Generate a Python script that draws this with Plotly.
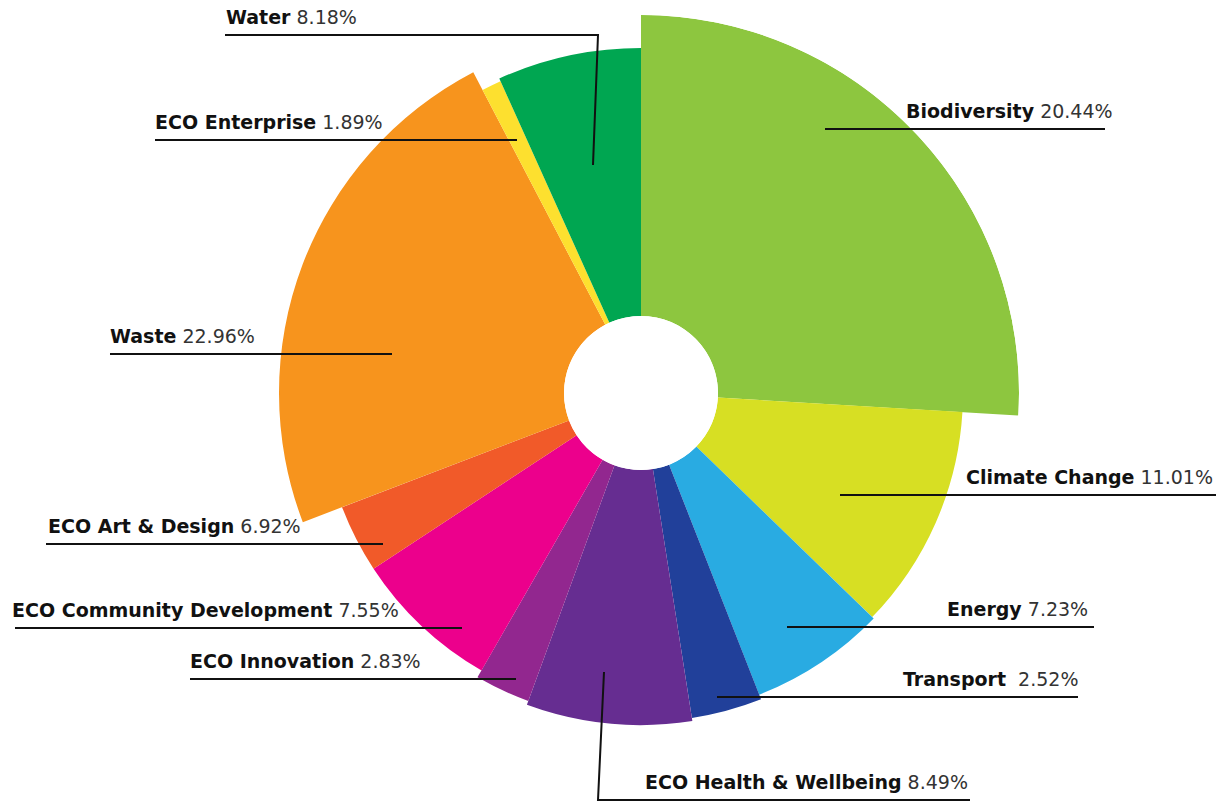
import plotly.graph_objects as go

# ---------------- data ----------------
categories = ["Biodiversity", "Climate Change", "Energy", "Transport",
              "ECO Health & Wellbeing", "ECO Innovation", "ECO Community Development",
              "ECO Art & Design", "Waste", "ECO Enterprise", "Water"]
percent_labels = ["20.44%", "11.01%", "7.23%", "2.52%", "8.49%", "2.83%",
                  "7.55%", "6.92%", "22.96%", "1.89%", "8.18%"]
# angular extent of every sector, degrees (clockwise from 12 o'clock)
sector_span_deg = [93.4, 40.7, 24.5, 12.5, 29.0, 9.8, 26.8, 12.4, 83.3, 3.35, 24.25]
# outer radius of every sector
sector_radius = [378, 322, 324, 329, 332, 328, 320, 320, 362, 342, 345]
colors = ["#8DC63F", "#D7DF23", "#29ABE2", "#21409A", "#662D91", "#92278F",
          "#EC008C", "#F15A29", "#F7941D", "#FDE02F", "#00A651"]

HOLE_R = 77
R_MAX = 378
W, H = 1230, 807
CX, CY = 641, 393

thetas = []
acc = 0.0
for s in sector_span_deg:
    thetas.append(acc + s / 2)
    acc += s

fig = go.Figure()
fig.add_trace(go.Barpolar(
    theta=thetas,
    width=sector_span_deg,
    r=[r - HOLE_R for r in sector_radius],
    marker=dict(color=colors, line=dict(width=0)),
    hoverinfo="skip",
    showlegend=False,
))

fig.update_layout(
    width=W, height=H,
    margin=dict(l=0, r=0, t=0, b=0),
    paper_bgcolor="white",
    plot_bgcolor="white",
    polar=dict(
        domain=dict(x=[(CX - R_MAX) / W, (CX + R_MAX) / W],
                    y=[(H - (CY + R_MAX)) / H, (H - (CY - R_MAX)) / H]),
        hole=HOLE_R / R_MAX,
        bgcolor="white",
        bargap=0,
        radialaxis=dict(range=[0, R_MAX - HOLE_R], visible=False),
        angularaxis=dict(visible=False, direction="clockwise", rotation=90),
    ),
)


def px(x, y):
    return x / W, 1 - y / H


# label layout: (category index, text anchor x, side, leader path in px)
labels = [
    (0, 1115, "right", [(1105, 129), (825, 129)]),
    (1, 1215, "right", [(1216, 495), (840, 495)]),
    (2, 1090, "right", [(1094, 627), (787, 627)]),
    (3, 1080, "right", [(1078, 697), (717, 697)]),
    (4, 970, "right", [(970, 800), (598, 800), (604, 672)]),
    (5, 188, "left", [(190, 679), (516, 679)]),
    (6, 10, "left", [(15, 628), (462, 628)]),
    (7, 46, "left", [(46, 544), (383, 544)]),
    (8, 108, "left", [(110, 354), (392, 354)]),
    (9, 153, "left", [(155, 140), (517, 140)]),
    (10, 224, "left", [(225, 35), (598, 35), (593, 165)]),
]

shapes = []
annotations = []
for idx, tx, side, pts in labels:
    path = ""
    for k, (x, y) in enumerate(pts):
        X, Y = px(x, y)
        path += ("M" if k == 0 else " L") + f" {X:.5f},{Y:.5f}"
    shapes.append(dict(type="path", path=path, xref="paper", yref="paper",
                       line=dict(color="#111111", width=2)))
    line_y = pts[0][1]
    sep = "  " if categories[idx] == "Transport" else " "
    X, Y = px(tx, line_y - 18)
    annotations.append(dict(
        x=X, y=Y, xref="paper", yref="paper",
        xanchor=side, yanchor="middle", showarrow=False,
        text=f"<b>{categories[idx]}</b>{sep}<span style='color:#333333'>{percent_labels[idx]}</span>",
        font=dict(family="DejaVu Sans, sans-serif", size=19, color="#111111"),
    ))

fig.update_layout(shapes=shapes, annotations=annotations)
fig.write_html("out.html",
               config={"displayModeBar": False},
               post_script="document.body.style.margin='0';document.body.style.overflow='hidden';")
